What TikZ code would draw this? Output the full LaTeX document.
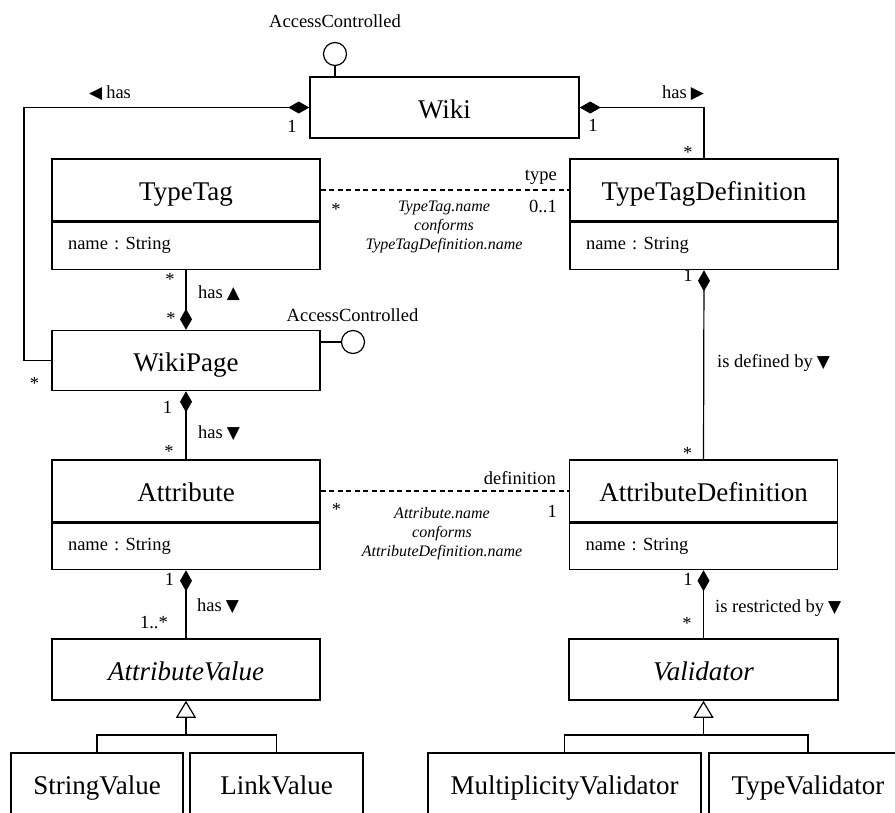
\documentclass[tikz,border=0pt]{standalone}
\usepackage{fontspec}
\setmainfont{Liberation Serif}
\newfontfamily\symfnt{DejaVu Sans}
\usetikzlibrary{arrows.meta}
\frenchspacing
\newcommand\myTdown{\hspace{4pt}{\symfnt\fontsize{17}{19}\selectfont ▼}}
\newcommand\myTup{\hspace{4pt}{\symfnt\fontsize{17}{19}\selectfont ▲}}
\newcommand\myTleft{{\symfnt\fontsize{17}{19}\selectfont ◀}\hspace{4pt}}
\newcommand\myTright{\hspace{4pt}{\symfnt\fontsize{17}{19}\selectfont ▶}}
\tikzset{
  cls/.style={draw, line width=1.5pt, minimum width=268pt, minimum height=62pt, inner sep=0pt,
    font=\fontsize{27}{30}\selectfont, text height=21pt, text depth=0pt},
  abs/.style={cls, font=\fontsize{27}{30}\selectfont\itshape},
  attrbox/.style={draw, line width=1.5pt, text width=236pt, inner xsep=16pt, inner ysep=0pt,
    minimum height=47pt, align=left, font=\fontsize{18.5}{22}\selectfont, text height=13pt, text depth=6pt, anchor=north},
  conn/.style={line width=1.2pt},
  comp/.style={conn, {Diamond[length=21pt,width=12pt]}-},
  gen/.style={conn, -{Triangle[open,length=17pt,width=20pt]}},
  dep/.style={conn, dash pattern=on 5pt off 3.5pt},
  iface/.style={draw, circle, line width=1.2pt, minimum size=23pt, inner sep=0pt},
  lbl/.style={inner sep=0pt, anchor=base, font=\fontsize{18.5}{22}\selectfont},
  lblw/.style={lbl, anchor=base west},
  lble/.style={lbl, anchor=base east},
  note/.style={inner sep=0pt, align=center, font=\fontsize{16}{19}\selectfont\itshape}
}
\begin{document}
\begin{tikzpicture}[x=1pt,y=-1pt]
\useasboundingbox (0,0) rectangle (895,812);

% classes
\node[cls, minimum width=269pt, minimum height=61pt] (wiki) at (444.5,107.5) {Wiki};
\node[cls] (tt) at (186,190) {TypeTag};
\node[attrbox] (ttA) at (tt.south) {name : String};
\node[cls] (ttd) at (704,190) {TypeTagDefinition};
\node[attrbox] (ttdA) at (ttd.south) {name : String};
\node[cls, minimum height=60pt] (wp) at (186,360.5) {WikiPage};
\node[cls] (at) at (186,491) {Attribute};
\node[attrbox, minimum height=46pt] (atA) at (at.south) {name : String};
\node[cls] (ad) at (703.5,491) {AttributeDefinition};
\node[attrbox, minimum height=46pt] (adA) at (ad.south) {name : String};
\node[abs, minimum height=61pt] (av) at (186,669.5) {AttributeValue};
\node[abs, minimum width=269pt, minimum height=61pt] (val) at (703.5,669.5) {Validator};
\node[cls, minimum width=172pt] (sv) at (97,784) {StringValue};
\node[cls, minimum width=173pt] (lv) at (276.5,784) {LinkValue};
\node[cls, minimum width=273pt] (mv) at (564.5,784) {MultiplicityValidator};
\node[cls, minimum width=198pt] (tv) at (808,784) {TypeValidator};

% interfaces
\node[iface] (ic1) at (335,54) {};
\node[lbl] (ic1l) at (335,27) {AccessControlled};
\draw[conn] (ic1.south) -- (ic1.south |- wiki.north);
\node[iface] (ic2) at (353,342) {};
\node[lbl] (ic2l) at (352.5,321) {AccessControlled};
\draw[conn] (ic2.west) -- (ic2.west -| wp.east);

% Wiki has WikiPage
\coordinate (lc) at (24,0);
\draw[comp] (wiki.west) -- (wiki.west -| lc) -- (lc |- wp.west) -- (wp.west);
\node[lblw] (l1) at (89,98) {\myTleft has};
\node[lbl] (m1) at (292,132) {1};
\node[lbl] (m2) at (34.5,389) {*};

% Wiki has TypeTagDefinition
\draw[comp] (wiki.east) -- (wiki.east -| ttd.north) -- (ttd.north);
\node[lblw] (l2) at (662,98) {has\myTright};
\node[lbl] (m3) at (593,131) {1};
\node[lbl] (m4) at (688,158) {*};

% TypeTag -- TypeTagDefinition
\draw[dep] (tt.east) -- (ttd.west);
\node[lble] (l3) at (557,180) {type};
\node[lble] (m5) at (557,212) {0..1};
\node[lbl] (m6) at (336,215) {*};
\node[note] (n1) at (444,227) {TypeTag.name\\conforms\\TypeTagDefinition.name};

% WikiPage has TypeTag
\draw[comp] (wp.north) -- (ttA.south);
\node[lblw] (l4) at (198,298) {has\myTup};
\node[lbl] (m7) at (170,285) {*};
\node[lbl] (m8) at (171,324) {*};

% WikiPage has Attribute
\draw[comp] (wp.south) -- (at.north);
\node[lblw] (l5) at (198,438) {has\myTdown};
\node[lbl] (m9) at (167.5,413) {1};
\node[lbl] (m10) at (169,457) {*};

% Attribute -- AttributeDefinition
\draw[dep] (at.east) -- (ad.west);
\node[lble] (l6) at (556,484) {definition};
\node[lbl] (m11) at (336.5,515.5) {*};
\node[lble] (m12) at (557,517) {1};
\node[note] (n2) at (442,534) {Attribute.name\\conforms\\AttributeDefinition.name};

% TypeTagDefinition is defined by AttributeDefinition
\draw[comp] (ttdA.south) -- (ad.north);
\node[lblw] (l7) at (717,367) {is defined by\myTdown};
\node[lbl] (m13) at (688,281) {1};
\node[lbl] (m14) at (687.5,459) {*};

% Attribute has AttributeValue
\draw[comp] (atA.south) -- (av.north);
\node[lblw] (l8) at (197,611) {has\myTdown};
\node[lbl] (m15) at (169.5,585) {1};
\node[lble] (m16) at (168,628) {1..*};

% AttributeDefinition is restricted by Validator
\draw[comp] (adA.south) -- (val.north);
\node[lblw] (l9) at (715,612) {is restricted by\myTdown};
\node[lbl] (m17) at (688,585) {1};
\node[lbl] (m18) at (687,629) {*};

% generalizations
\coordinate (avj) at (186,735);
\draw[gen] (avj) -- (av.south);
\draw[conn] (sv.north) |- (avj) -| (lv.north);
\coordinate (valj) at (703.5,735);
\draw[gen] (valj) -- (val.south);
\draw[conn] (mv.north) |- (valj) -| (tv.north);
\end{tikzpicture}
\end{document}
